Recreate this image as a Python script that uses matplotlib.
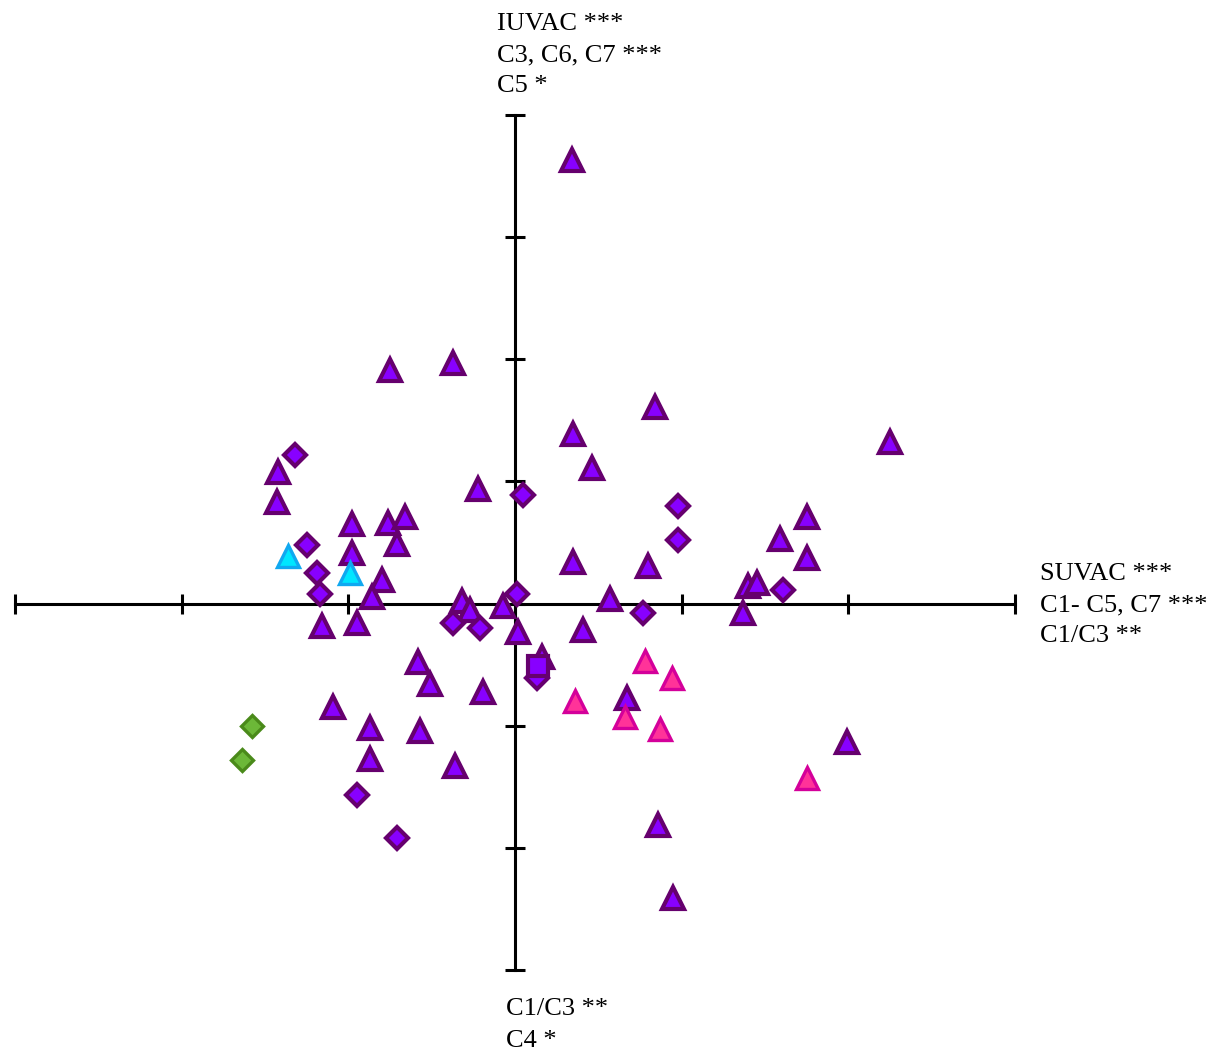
import matplotlib
matplotlib.use("Agg")
import matplotlib.pyplot as plt

# purple triangles
tri_x = [0.34, -0.75, -0.37, 0.84, 0.35, 2.25, 0.46, -1.42, -1.43, -0.22,
         -0.98, -0.76, -0.66, -0.71, -0.98, 1.75, 1.59, 1.75, 0.35, 0.80,
         -0.80, -0.86, 1.40, 1.45, 0.57, 1.37, -0.32, -0.27, -0.07, -1.16,
         -0.95, 0.02, 0.41, -0.58, -0.51, -0.19, 0.16, 0.67, -1.09, -0.87,
         -0.57, -0.87, -0.36, 1.99, 0.86, 0.95]
tri_y = [3.63, 1.91, 1.97, 1.61, 1.39, 1.32, 1.11, 1.08, 0.83, 0.94,
         0.65, 0.66, 0.71, 0.49, 0.41, 0.71, 0.53, 0.37, 0.34, 0.31,
         0.19, 0.05, 0.14, 0.17, 0.04, -0.08, 0.02, -0.05, -0.02, -0.18,
         -0.16, -0.23, -0.22, -0.48, -0.66, -0.72, -0.44, -0.77, -0.85, -1.02,
         -1.04, -1.27, -1.33, -1.13, -1.81, -2.41]

# purple diamonds
dia_x = [-1.32, 0.05, 0.98, 0.98, -1.25, -1.19, -1.17, 0.01, 1.61, 0.77,
         -0.37, -0.21, 0.13, -0.95, -0.71]
dia_y = [1.22, 0.89, 0.80, 0.52, 0.48, 0.25, 0.08, 0.08, 0.11, -0.08,
         -0.16, -0.20, -0.61, -1.57, -1.92]

# purple square
sq_x = [0.14]
sq_y = [-0.51]

# cyan triangles
cyan_x = [-1.36, -0.99]
cyan_y = [0.39, 0.25]

# pink triangles
pink_x = [0.78, 0.94, 0.36, 0.66, 0.87, 1.75]
pink_y = [-0.47, -0.61, -0.80, -0.93, -1.03, -1.43]

# green diamonds
green_x = [-1.58, -1.64]
green_y = [-1.00, -1.28]

x_label = "SUVAC ***\nC1- C5, C7 ***\nC1/C3 **"
y_top_label = "IUVAC ***\nC3, C6, C7 ***\nC5 *"
y_bottom_label = "C1/C3 **\nC4 *"

W, H = 1212, 1054
fig = plt.figure(figsize=(W / 100, H / 100), dpi=100)
ax = fig.add_axes([15 / W, (H - 970) / H, 1000 / W, 855 / H])
ax.set_xlim(-3, 3)
ax.set_ylim(-3, 4)

purple = "#8800ff"
purple_edge = "#66006e"
ax.plot(tri_x, tri_y, "^", ms=16.5, mfc=purple, mec=purple_edge, mew=3, ls="none", zorder=3)
ax.plot(dia_x, dia_y, "D", ms=11, mfc=purple, mec=purple_edge, mew=3, ls="none", zorder=3)
ax.plot(sq_x, sq_y, "s", ms=14, mfc=purple, mec=purple_edge, mew=3, ls="none", zorder=4)
ax.plot(cyan_x, cyan_y, "^", ms=16.5, mfc="#00e6ff", mec="#10a8f0", mew=2.4, ls="none", zorder=3)
ax.plot(pink_x, pink_y, "^", ms=16.5, mfc="#ff3399", mec="#d4009a", mew=2.4, ls="none", zorder=3)
ax.plot(green_x, green_y, "D", ms=11, mfc="#6cb838", mec="#4a8a1a", mew=2.4, ls="none", zorder=3)

# cross-shaped axes through the origin
for side in ["top", "right"]:
    ax.spines[side].set_visible(False)
ax.spines["left"].set_position(("data", 0))
ax.spines["bottom"].set_position(("data", 0))
ax.spines["left"].set_linewidth(2.2)
ax.spines["bottom"].set_linewidth(2.2)
ax.set_xticks(range(-3, 4))
ax.set_yticks(range(-3, 5))
ax.tick_params(direction="inout", length=15, width=2.2, labelbottom=False, labelleft=False)
ax.patch.set_alpha(0)

font = dict(family="Liberation Serif", fontsize=19, color="black", linespacing=1.55)
fig.text(497 / W, 1 - 55 / H, y_top_label, ha="left", va="center", **font)
fig.text(1040 / W, 1 - 605 / H, x_label, ha="left", va="center", **font)
fig.text(506 / W, 1 - 1025 / H, y_bottom_label, ha="left", va="center", **font)

fig.savefig("out.png", dpi=100)
